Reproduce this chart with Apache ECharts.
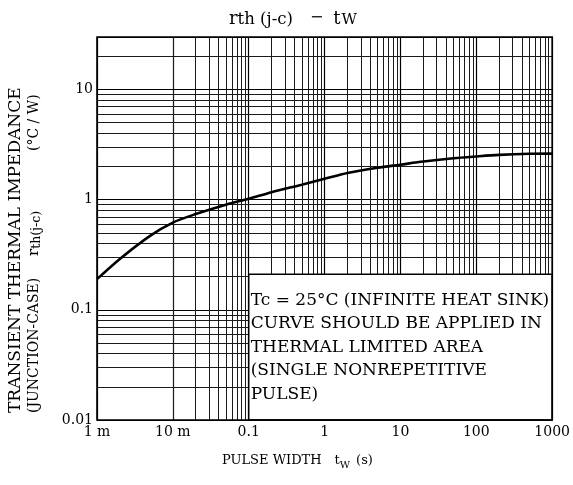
<!DOCTYPE html>
<html>
<head>
<meta charset="utf-8">
<script src="https://cdn.jsdelivr.net/npm/echarts@6/dist/echarts.min.js"></script>
<style>
html,body{margin:0;padding:0;background:#fff;}
#chart{width:573px;height:485px;}
</style>
</head>
<body>
<div id="chart"></div>
<script>
// ---- data ----
var pulseWidth = [0.001, 0.002, 0.005, 0.01, 0.02, 0.05, 0.1, 0.2, 0.5, 1, 2, 5, 10, 20, 50, 100, 200, 500, 1000];
var rthJC      = [0.19, 0.29, 0.47, 0.62, 0.74, 0.90, 1.02, 1.17, 1.37, 1.55, 1.75, 1.95, 2.08, 2.22, 2.38, 2.47, 2.55, 2.61, 2.62];
var xTickValues = [0.001, 0.01, 0.1, 1, 10, 100, 1000];
var xTickLabels = ['1 m', '10 m', '0.1', '1', '10', '100', '1000'];
var yTickValues = [0.01, 0.1, 1, 10];
var yTickLabels = ['0.01', '0.1', '1', '10'];
var xMinorGrid = [];
[-3, -2, -1, 0, 1, 2].forEach(function (e) { for (var m = 2; m <= 9; m++) xMinorGrid.push(+(m * Math.pow(10, e)).toPrecision(3)); });
var yMinorGrid = [];
[-2, -1, 0].forEach(function (e) { for (var m = 2; m <= 9; m++) yMinorGrid.push(+(m * Math.pow(10, e)).toPrecision(3)); });
yMinorGrid.push(20);
var noteBox = [0.1, 0.01, 1000, 0.21]; // x from, y from, x to, y to (data units)
var noteLines = ['Tc = 25°C (INFINITE HEAT SINK)', 'CURVE SHOULD BE APPLIED IN', 'THERMAL LIMITED AREA', '(SINGLE NONREPETITIVE', 'PULSE)'];

var FONT = 'DejaVu Serif';
function labelFor(values, labels) {
  return function (v) {
    for (var i = 0; i < values.length; i++) {
      if (Math.abs(Math.log10(v) - Math.log10(values[i])) < 1e-6) return labels[i];
    }
    return '';
  };
}

var chart = echarts.init(document.getElementById('chart'), null, { renderer: 'canvas' });
var gridLine = { color: '#1a1a1a', width: 1, type: 'solid' };
var option = {
  animation: false,
  backgroundColor: '#fff',
  grid: { left: 97, right: 16, top: 37, bottom: 65, show: true, borderColor: '#000', borderWidth: 1.6, backgroundColor: 'transparent', z: 10 },
  xAxis: {
    type: 'log', logBase: 10, min: 0.001, max: 1000, interval: 1,
    axisLine: { show: false }, axisTick: { show: false },
    splitLine: { show: true, lineStyle: { color: '#000', width: 1.2 } },
    axisLabel: { formatter: labelFor(xTickValues, xTickLabels), color: '#000', fontFamily: FONT, fontSize: 14, margin: 5, showMaxLabel: true, showMinLabel: true }
  },
  yAxis: {
    type: 'log', logBase: 10, min: 0.01, max: 30, interval: 1,
    axisLine: { show: false }, axisTick: { show: false },
    splitLine: { show: true, lineStyle: { color: '#000', width: 1.2 } },
    axisLabel: { formatter: labelFor(yTickValues, yTickLabels), color: '#000', fontFamily: FONT, fontSize: 14, margin: 4 }
  },
  series: [
    {
      type: 'line', data: [], z: 1, silent: true,
      markLine: {
        z: 1, silent: true, symbol: 'none', animation: false,
        label: { show: false },
        lineStyle: gridLine,
        data: xMinorGrid.map(function (v) { return { xAxis: v }; }).concat(yMinorGrid.map(function (v) { return { yAxis: v }; }))
      }
    },
    {
      type: 'custom', z: 8, silent: true,
      encode: { x: [0, 2], y: [1, 3] },
      data: [noteBox],
      renderItem: function (params, api) {
        var p0 = api.coord([api.value(0), api.value(3)]);
        var p1 = api.coord([api.value(2), api.value(1)]);
        return {
          type: 'group',
          children: [
            { type: 'rect', shape: { x: p0[0], y: p0[1], width: p1[0] - p0[0], height: p1[1] - p0[1] },
              style: { fill: '#fff', stroke: '#000', lineWidth: 1.5 } },
            { type: 'text', style: { text: noteLines.join('\n'), x: p0[0] + 2, y: p0[1] + 14,
              fill: '#000', fontFamily: FONT, fontSize: 17, lineHeight: 23.5, verticalAlign: 'top', align: 'left' } }
          ]
        };
      }
    },
    {
      type: 'line', z: 9, smooth: 0.3, showSymbol: false, silent: true,
      lineStyle: { color: '#000', width: 2.6 },
      data: pulseWidth.map(function (x, i) { return [x, rthJC[i]]; })
    }
  ],
  graphic: [
    {
      type: 'text', x: 229, y: 10, z: 20,
      style: {
        text: '{m|r}{s|th (j-c)}{d|−}{t|t}{w|W}',
        rich: {
          m: { fontFamily: FONT, fontSize: 18, color: '#000', verticalAlign: 'top', lineHeight: 18 },
          t: { fontFamily: FONT, fontSize: 18, color: '#000', verticalAlign: 'top', lineHeight: 18 },
          d: { fontFamily: FONT, fontSize: 16, color: '#000', verticalAlign: 'top', lineHeight: 18, padding: [0, 10, 0, 17] },
          s: { fontFamily: FONT, fontSize: 16.5, color: '#000', verticalAlign: 'bottom', lineHeight: 17, padding: [4, 0, 0, 0] },
          w: { fontFamily: FONT, fontSize: 15, color: '#000', verticalAlign: 'bottom', lineHeight: 16, padding: [6, 0, 0, 1] }
        }
      }
    },
    {
      type: 'text', x: 222, y: 454, z: 20,
      style: {
        text: '{m|PULSE WIDTH}{t|t}{s|W}{p|(s)}',
        rich: {
          m: { fontFamily: FONT, fontSize: 13, color: '#000', verticalAlign: 'top', lineHeight: 16 },
          t: { fontFamily: FONT, fontSize: 13, color: '#000', verticalAlign: 'top', lineHeight: 16, padding: [0, 0, 0, 13] },
          p: { fontFamily: FONT, fontSize: 13, color: '#000', verticalAlign: 'top', lineHeight: 16, padding: [0, 0, 0, 6] },
          s: { fontFamily: FONT, fontSize: 10, color: '#000', verticalAlign: 'bottom', lineHeight: 12, padding: [6, 0, 0, 0] }
        }
      }
    },
    {
      type: 'text', x: 7, y: 413, rotation: Math.PI / 2, z: 20,
      style: { text: 'TRANSIENT THERMAL IMPEDANCE', fontFamily: FONT, fontSize: 17, fill: '#000' }
    },
    {
      type: 'text', x: 27, y: 413, rotation: Math.PI / 2, z: 20,
      style: { text: '(JUNCTION-CASE)', fontFamily: FONT, fontSize: 14, fill: '#000' }
    },
    {
      type: 'text', x: 27, y: 256, rotation: Math.PI / 2, z: 20,
      style: {
        text: '{m|r}{s|th(j-c)}',
        rich: {
          m: { fontFamily: FONT, fontSize: 15, color: '#000', verticalAlign: 'top', lineHeight: 16 },
          s: { fontFamily: FONT, fontSize: 12.5, color: '#000', verticalAlign: 'bottom', lineHeight: 14, padding: [5, 0, 0, 0] }
        }
      }
    },
    {
      type: 'text', x: 27, y: 151, rotation: Math.PI / 2, z: 20,
      style: { text: '(°C / W)', fontFamily: FONT, fontSize: 14, fill: '#000' }
    }
  ]
};
chart.setOption(option);
</script>
</body>
</html>
